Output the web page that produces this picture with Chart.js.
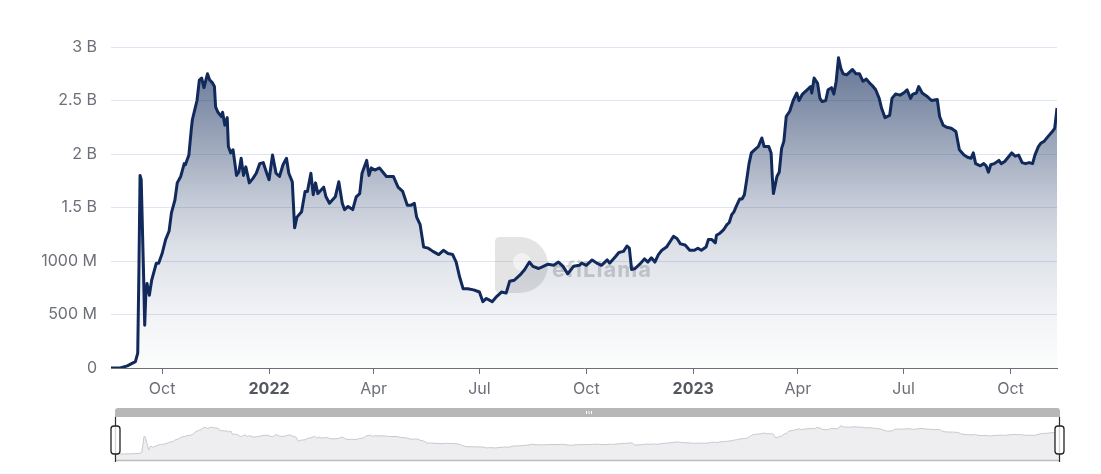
<!DOCTYPE html>
<html>
<head>
<meta charset="utf-8">
<script src="https://cdn.jsdelivr.net/npm/chart.js@4.4.0/dist/chart.umd.min.js"></script>
<style>
  body { margin: 0; background: #fff; width: 1101px; height: 474px; overflow: hidden; position: relative; }
  #main { position: absolute; left: 0; top: 0; }
  #nav { position: absolute; left: 0; top: 400px; }
</style>
</head>
<body>
<canvas id="main" width="1101" height="400"></canvas>
<canvas id="nav" width="1101" height="74"></canvas>
<script>
// TVL in billions USD
const dates = [
  '2021-08-18','2021-08-26','2021-09-01','2021-09-08','2021-09-10','2021-09-11','2021-09-12','2021-09-13',
  '2021-09-15','2021-09-16','2021-09-17','2021-09-18','2021-09-20','2021-09-22','2021-09-26','2021-09-28',
  '2021-10-01','2021-10-04','2021-10-07','2021-10-09','2021-10-12','2021-10-14','2021-10-17','2021-10-20',
  '2021-10-21','2021-10-24','2021-10-26','2021-10-27','2021-10-29','2021-10-31','2021-11-02','2021-11-04',
  '2021-11-06','2021-11-09','2021-11-11','2021-11-13','2021-11-15','2021-11-16','2021-11-18','2021-11-21',
  '2021-11-22','2021-11-24','2021-11-26','2021-11-27','2021-11-29','2021-12-01','2021-12-04','2021-12-06',
  '2021-12-08','2021-12-10','2021-12-12','2021-12-15','2021-12-18','2021-12-21','2021-12-24','2021-12-27',
  '2021-12-30','2022-01-01','2022-01-04','2022-01-07','2022-01-10','2022-01-13','2022-01-16','2022-01-18',
  '2022-01-21','2022-01-23','2022-01-25','2022-01-29','2022-02-01','2022-02-03','2022-02-06','2022-02-08',
  '2022-02-10','2022-02-12','2022-02-17','2022-02-19','2022-02-22','2022-02-27','2022-03-02','2022-03-05',
  '2022-03-07','2022-03-10','2022-03-14','2022-03-17','2022-03-20','2022-03-22','2022-03-26','2022-03-28',
  '2022-03-30','2022-04-02','2022-04-06','2022-04-09','2022-04-12','2022-04-18','2022-04-22','2022-04-26',
  '2022-04-30','2022-05-03','2022-05-06','2022-05-08','2022-05-11','2022-05-14','2022-05-18','2022-05-22',
  '2022-05-27','2022-05-31','2022-06-04','2022-06-08','2022-06-11','2022-06-14','2022-06-17','2022-06-21',
  '2022-06-26','2022-07-01','2022-07-04','2022-07-07','2022-07-12','2022-07-16','2022-07-20','2022-07-24',
  '2022-07-27','2022-07-31','2022-08-05','2022-08-09','2022-08-13','2022-08-16','2022-08-21','2022-08-25',
  '2022-08-29','2022-09-03','2022-09-07','2022-09-11','2022-09-15','2022-09-20','2022-09-25','2022-09-27',
  '2022-10-01','2022-10-06','2022-10-10','2022-10-14','2022-10-19','2022-10-21','2022-10-26','2022-10-29',
  '2022-11-02','2022-11-05','2022-11-07','2022-11-09','2022-11-12','2022-11-16','2022-11-20','2022-11-23',
  '2022-11-26','2022-11-29','2022-12-02','2022-12-05','2022-12-09','2022-12-12','2022-12-15','2022-12-18',
  '2022-12-21','2022-12-25','2022-12-29','2023-01-02','2023-01-05','2023-01-08','2023-01-12','2023-01-14',
  '2023-01-17','2023-01-20','2023-01-21','2023-01-24','2023-01-27','2023-01-30','2023-02-01','2023-02-03',
  '2023-02-05','2023-02-07','2023-02-10','2023-02-12','2023-02-14','2023-02-16','2023-02-18','2023-02-20',
  '2023-02-23','2023-02-26','2023-03-01','2023-03-03','2023-03-07','2023-03-09','2023-03-10','2023-03-11',
  '2023-03-14','2023-03-16','2023-03-18','2023-03-20','2023-03-22','2023-03-25','2023-03-28','2023-03-31',
  '2023-04-02','2023-04-05','2023-04-09','2023-04-12','2023-04-13','2023-04-15','2023-04-18','2023-04-20',
  '2023-04-22','2023-04-25','2023-04-27','2023-04-30','2023-05-02','2023-05-04','2023-05-06','2023-05-08',
  '2023-05-10','2023-05-13','2023-05-16','2023-05-18','2023-05-21','2023-05-24','2023-05-27','2023-05-30',
  '2023-06-02','2023-06-04','2023-06-07','2023-06-10','2023-06-12','2023-06-15','2023-06-19','2023-06-21',
  '2023-06-24','2023-06-28','2023-07-01','2023-07-04','2023-07-07','2023-07-09','2023-07-12','2023-07-14',
  '2023-07-17','2023-07-21','2023-07-25','2023-07-30','2023-08-01','2023-08-04','2023-08-07','2023-08-11',
  '2023-08-15','2023-08-18','2023-08-22','2023-08-25','2023-08-28','2023-08-30','2023-09-01','2023-09-05',
  '2023-09-08','2023-09-10','2023-09-12','2023-09-14','2023-09-17','2023-09-21','2023-09-23','2023-09-26',
  '2023-09-29','2023-10-02','2023-10-05','2023-10-08','2023-10-11','2023-10-14','2023-10-17','2023-10-20',
  '2023-10-22','2023-10-25','2023-10-27','2023-10-30','2023-11-02','2023-11-06','2023-11-08','2023-11-09',
  '2023-11-10'
];
const tvl = [
  0, 0, 0.02, 0.06, 0.14, 0.9, 1.80, 1.76,
  0.89, 0.40, 0.70, 0.79, 0.68, 0.82, 0.98, 0.98,
  1.07, 1.20, 1.28, 1.45, 1.57, 1.73, 1.79, 1.91,
  1.90, 1.99, 2.22, 2.32, 2.41, 2.50, 2.69, 2.71,
  2.62, 2.75, 2.69, 2.67, 2.63, 2.44, 2.39, 2.35,
  2.39, 2.27, 2.34, 2.07, 2.01, 2.04, 1.80, 1.83,
  1.96, 1.80, 1.88, 1.73, 1.77, 1.82, 1.91, 1.92,
  1.82, 1.76, 1.99, 1.82, 1.79, 1.90, 1.96, 1.82,
  1.74, 1.31, 1.41, 1.46, 1.65, 1.65, 1.82, 1.62,
  1.73, 1.63, 1.69, 1.60, 1.54, 1.60, 1.74, 1.54,
  1.48, 1.51, 1.48, 1.60, 1.63, 1.82, 1.94, 1.80,
  1.87, 1.85, 1.87, 1.83, 1.79, 1.79, 1.69, 1.65,
  1.52, 1.52, 1.54, 1.41, 1.34, 1.13, 1.12, 1.09,
  1.06, 1.10, 1.07, 1.06, 0.99, 0.85, 0.74, 0.74,
  0.73, 0.71, 0.62, 0.65, 0.62, 0.67, 0.71, 0.70,
  0.81, 0.82, 0.87, 0.92, 0.99, 0.95, 0.93, 0.95,
  0.97, 0.96, 0.99, 0.95, 0.88, 0.95, 0.96, 0.98,
  0.96, 1.01, 0.98, 0.96, 1.01, 0.98, 1.04, 1.08,
  1.09, 1.14, 1.12, 0.92, 0.93, 0.97, 1.02, 0.99,
  1.03, 0.99, 1.06, 1.10, 1.13, 1.18, 1.23, 1.21,
  1.16, 1.15, 1.10, 1.10, 1.12, 1.10, 1.13, 1.20,
  1.20, 1.17, 1.24, 1.26, 1.29, 1.34, 1.36, 1.43,
  1.46, 1.51, 1.58, 1.58, 1.62, 1.76, 1.91, 2.01,
  2.04, 2.07, 2.15, 2.07, 2.07, 2.01, 1.79, 1.63,
  1.79, 1.83, 2.05, 2.12, 2.35, 2.40, 2.50, 2.57,
  2.50, 2.56, 2.60, 2.63, 2.57, 2.71, 2.66, 2.52,
  2.49, 2.50, 2.60, 2.62, 2.56, 2.68, 2.90, 2.80,
  2.75, 2.74, 2.77, 2.79, 2.75, 2.75, 2.68, 2.70,
  2.66, 2.64, 2.60, 2.52, 2.43, 2.34, 2.36, 2.52,
  2.56, 2.55, 2.57, 2.60, 2.52, 2.56, 2.57, 2.63,
  2.57, 2.54, 2.50, 2.51, 2.35, 2.27, 2.25, 2.24,
  2.21, 2.04, 1.99, 1.97, 1.96, 2.01, 1.91, 1.89,
  1.91, 1.89, 1.83, 1.90, 1.91, 1.94, 1.91, 1.93,
  1.97, 2.01, 1.98, 1.99, 1.92, 1.91, 1.92, 1.91,
  1.99, 2.07, 2.10, 2.12, 2.16, 2.21, 2.24, 2.33,
  2.43
];
const xTickDates = ['2021-10-01','2022-01-01','2022-04-01','2022-07-01','2022-10-01','2023-01-01','2023-04-01','2023-07-01','2023-10-01'];
const xTickLabels = ['Oct','2022','Apr','Jul','Oct','2023','Apr','Jul','Oct'];
const yTickValues = [0, 0.5, 1, 1.5, 2, 2.5, 3];
const yTickLabels = ['0','500 M','1000 M','1.5 B','2 B','2.5 B','3 B'];

const xStart = '2021-08-18';
const xEnd = '2023-11-10';

function toDay(d) { return Date.parse(d) / 864e5; }
const points = dates.map((d, i) => ({ x: toDay(d), y: tvl[i] }));
const isYear = (i) => /^\d{4}$/.test(xTickLabels[i]);

// faint logo in the middle of the plot
const watermark = {
  id: 'watermark',
  beforeDatasetsDraw(chart) {
    const c = chart.ctx;
    c.save();
    c.fillStyle = 'rgba(120,120,120,0.2)';
    c.beginPath();
    c.moveTo(500, 237);
    c.lineTo(520, 237);
    c.arc(520, 265, 28, -Math.PI / 2, Math.PI / 2);
    c.lineTo(500, 293);
    c.quadraticCurveTo(495, 293, 495, 288);
    c.lineTo(495, 242);
    c.quadraticCurveTo(495, 237, 500, 237);
    c.fill();
    c.fillStyle = 'rgba(255,255,255,0.5)';
    c.beginPath();
    c.arc(522, 262, 9, 0, Math.PI * 2);
    c.fill();
    c.fillStyle = 'rgba(120,120,120,0.32)';
    c.font = 'bold 22px Inter';
    c.letterSpacing = '1px';
    c.textBaseline = 'alphabetic';
    c.fillText('efiLlama', 552, 277);
    c.restore();
  }
};

const mainChart = new Chart(document.getElementById('main'), {
  type: 'line',
  data: {
    datasets: [{
      data: points,
      borderColor: '#112a5b',
      borderWidth: 3,
      borderJoinStyle: 'round',
      pointRadius: 0,
      tension: 0,
      fill: 'origin',
      backgroundColor: (ctx) => {
        const a = ctx.chart.chartArea;
        if (!a) return 'rgba(17,42,91,0.3)';
        const g = ctx.chart.ctx.createLinearGradient(0, a.top, 0, a.bottom);
        g.addColorStop(0, 'rgba(17,42,91,0.68)');
        g.addColorStop(0.134, 'rgba(17,42,91,0.56)');
        g.addColorStop(0.477, 'rgba(17,42,91,0.25)');
        g.addColorStop(0.632, 'rgba(17,42,91,0.14)');
        g.addColorStop(0.85, 'rgba(17,42,91,0.05)');
        g.addColorStop(1, 'rgba(17,42,91,0.01)');
        return g;
      }
    }]
  },
  options: {
    responsive: false,
    animation: false,
    events: [],
    layout: { padding: { top: 47, right: 44, left: 0, bottom: 0 } },
    plugins: { legend: { display: false }, tooltip: { enabled: false } },
    scales: {
      x: {
        type: 'linear',
        min: toDay(xStart),
        max: toDay(xEnd),
        afterBuildTicks: (s) => { s.ticks = xTickDates.map(d => ({ value: toDay(d) })); },
        afterFit: (s) => { s.height = 32; },
        grid: { drawOnChartArea: false, drawTicks: true, tickLength: 6, color: '#6E7079', tickColor: '#6E7079' },
        border: { color: '#6E7079' },
        ticks: {
          autoSkip: false,
          maxRotation: 0,
          padding: 6,
          callback: (v, i) => xTickLabels[i],
          color: (ctx) => isYear(ctx.index) ? '#55585f' : '#6E7079',
          font: (ctx) => ({ family: 'Inter', size: 16, weight: isYear(ctx.index) ? 'bold' : 'normal' })
        }
      },
      y: {
        min: 0,
        max: 3,
        afterBuildTicks: (s) => { s.ticks = yTickValues.map(v => ({ value: v })); },
        afterFit: (s) => { s.width = 111; },
        grid: { color: '#E0E6F1', drawTicks: false },
        border: { display: false },
        ticks: {
          padding: 14,
          callback: (v, i) => yTickLabels[i],
          color: '#6E7079',
          font: { family: 'Inter', size: 16 }
        }
      }
    }
  },
  plugins: [watermark]
});

// data zoom strip under the chart
const navDecor = {
  id: 'navDecor',
  afterDraw(chart) {
    const c = chart.ctx;
    c.save();
    // top move bar
    c.fillStyle = '#b7b7b7';
    c.beginPath();
    c.roundRect(115, 8, 945, 9, [3, 3, 0, 0]);
    c.fill();
    c.fillStyle = '#ffffff';
    [586, 588.5, 591].forEach(x => c.fillRect(x, 11, 1, 3));
    // bottom edge
    c.strokeStyle = '#bcbcbc';
    c.lineWidth = 1.5;
    c.beginPath();
    c.moveTo(115, 60.5);
    c.lineTo(1059, 60.5);
    c.stroke();
    // handles
    [115.5, 1059.5].forEach(x => {
      c.strokeStyle = '#2b2b2b';
      c.lineWidth = 1.2;
      c.beginPath();
      c.moveTo(x, 17);
      c.lineTo(x, 62);
      c.stroke();
      c.fillStyle = 'rgba(255,255,255,0.8)';
      c.beginPath();
      c.roundRect(x - 4.5, 26, 9, 28, 3);
      c.fill();
      c.strokeStyle = '#222';
      c.lineWidth = 1.3;
      c.stroke();
    });
    c.restore();
  }
};

const navChart = new Chart(document.getElementById('nav'), {
  type: 'line',
  data: {
    datasets: [{
      data: points,
      borderColor: '#c6c9cf',
      borderWidth: 1,
      pointRadius: 0,
      tension: 0,
      fill: 'start',
      backgroundColor: '#eeeef0'
    }]
  },
  options: {
    responsive: false,
    animation: false,
    events: [],
    layout: { padding: { left: 115, right: 42, top: 18, bottom: 13 } },
    plugins: { legend: { display: false }, tooltip: { enabled: false } },
    scales: {
      x: { type: 'linear', display: false, min: toDay(xStart), max: toDay(xEnd) },
      y: { display: false, min: -0.72, max: 3.69 }
    }
  },
  plugins: [navDecor]
});
</script>
</body>
</html>
